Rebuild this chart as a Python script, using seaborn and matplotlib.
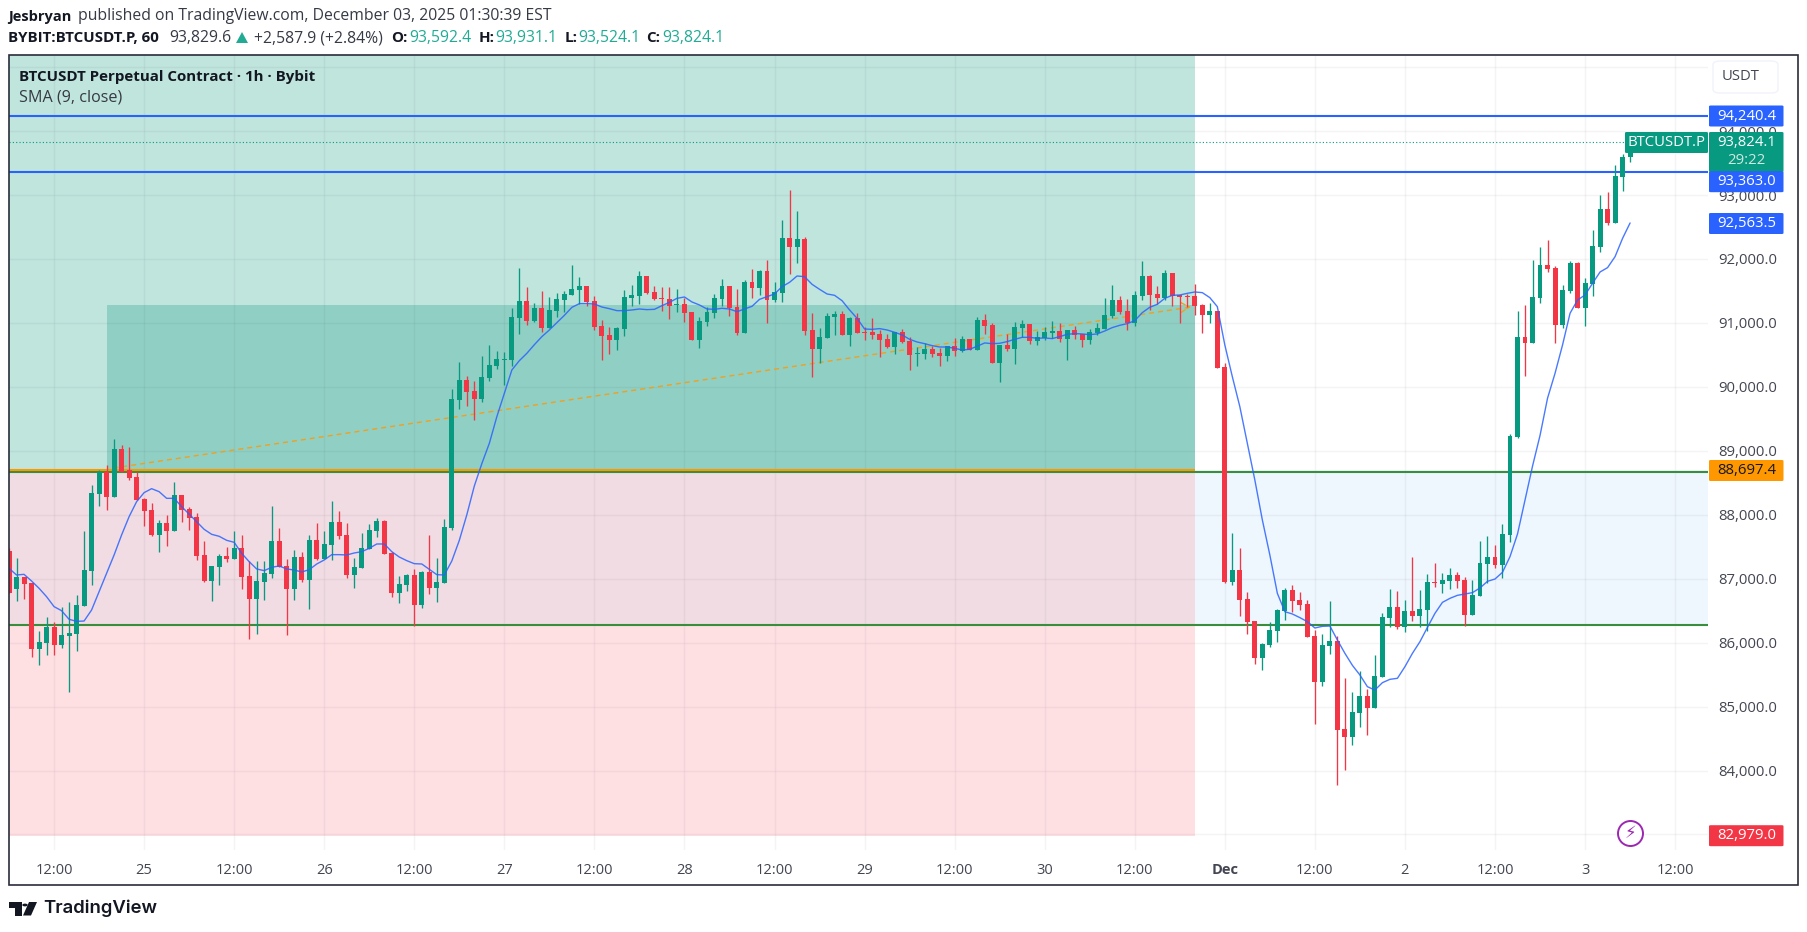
import numpy as np
import pandas as pd
import matplotlib
matplotlib.use("Agg")
import matplotlib.pyplot as plt
from matplotlib.patches import Rectangle, Polygon, FancyBboxPatch
import seaborn as sns

# candle values, hourly from Nov 24 06:00
opens = [87433,86839,87027,86933,85901,85995,86245,85963,86104,86135,
         86573,87120,88325,88674,88278,89028,88700,88591,88247,88074,
         87684,87871,87746,88309,88090,87965,87371,86964,87183,87355,
         87308,87480,87042,86683,86948,87074,87590,87199,86839,87339,
         86980,87605,87308,87527,87887,87684,87058,87167,87465,87746,
         87902,87402,86776,86902,87058,86589,87105,86855,86933,87793,
         89795,90108,89936,89811,90139,90327,90421,90421,91077,91343,
         91031,91234,90921,91187,91359,91437,91515,91578,91343,90952,
         90812,90733,90905,91390,91421,91734,91484,91390,91375,91281,
         91296,91171,90733,91015,91156,91375,91578,91249,90843,91640,
         91547,91812,91359,91468,92329,92188,92313,90890,90593,90765,
         91093,91140,90812,91077,90858,90858,90827,90749,90624,90859,
         90718,90515,90515,90593,90530,90483,90640,90562,90749,90577,
         91046,90968,90374,90656,90593,90921,90984,90718,90765,90843,
         90874,90749,90890,90828,90734,90843,90906,91109,91359,91187,
         91000,91422,91735,91453,91391,91782,91437,91422,91422,91281,
         91125,91187,90311,86948,87136,86683,86338,85760,85963,86182,
         86495,86823,86667,86604,86104,85384,85947,86026,84649,84524,
         84900,85166,84978,85463,86385,86557,86245,86495,86417,86510,
         86948,86917,86964,87058,86980,86432,86729,87230,87339,87214,
         87683,89222,90780,90687,91390,91907,91860,90968,91500,91938,
         91234,91609,92188,92782,92563,93283,93592.4]
highs = [87475,87324,87027,86933,86182,86401,86323,86557,86636,86745,
         87746,88465,88700,88778,89185,89091,89060,88669,88262,88184,
         87918,87996,88512,88309,88121,88028,87590,87199,87386,87496,
         87746,87684,87277,87277,87277,88137,87793,87308,87449,87418,
         87684,87871,87746,88215,88059,87871,87324,87715,87856,87949,
         87918,87418,87042,87074,87152,87120,87684,87324,87934,89967,
         90389,90170,90092,90483,90655,90561,90546,91234,91859,91562,
         91312,91500,91406,91468,91500,91906,91719,91578,91421,91046,
         90937,90937,91515,91594,91812,91734,91578,91562,91562,91531,
         91390,91171,91093,91249,91453,91687,91578,91531,91672,91844,
         91828,91984,91640,92610,93079,92751,92344,91156,90921,91156,
         91187,91187,91093,91156,90937,91077,90890,90827,90859,90906,
         90781,90624,90687,90640,90609,90640,90765,90796,90749,91093,
         91140,90999,90656,90828,91015,91046,90984,90874,90937,91031,
         91000,90890,90953,90828,90906,91000,91391,91594,91422,91375,
         91500,91969,91750,91578,91828,91782,91437,91453,91609,91297,
         91312,91187,90374,87715,87480,86792,86338,85994,86323,86526,
         86855,86901,86792,86667,86198,86135,86651,86104,85447,85228,
         85556,85275,85807,86464,86839,86808,86667,87339,86823,87073,
         87245,87089,87167,87105,87027,86980,87590,87668,87527,87855,
         89263,91187,91281,91985,92188,92298,91891,91594,91969,91953,
         91703,92454,93001,93048,93470,93643,93931.1]
lows = [86771,86651,86683,85776,85650,85807,85807,85916,85228,85869,
        86573,86902,88137,88074,88278,88669,88544,88231,87824,87668,
        87418,87511,87746,87887,87762,87292,86948,86651,86902,87261,
        87308,86839,86057,86135,86667,87011,87183,86120,86667,86948,
        86526,87292,87308,87292,87621,87011,86855,87167,87465,87652,
        87386,86714,86620,86808,86260,86542,86761,86636,86933,87760,
        89654,89701,89482,89764,90092,90280,90030,90327,90827,90968,
        91015,90858,90921,91093,91171,91437,91296,91265,90890,90421,
        90514,90577,90796,91265,91296,91453,91359,91187,91062,91171,
        91015,90733,90608,90952,91077,91265,91109,90812,90843,91390,
        91437,90999,91328,91328,91766,91938,90812,90155,90374,90765,
        90812,90812,90640,90843,90733,90749,90468,90608,90515,90687,
        90264,90327,90437,90468,90327,90405,90483,90546,90577,90577,
        90828,90374,90077,90562,90358,90781,90671,90656,90734,90765,
        90702,90421,90749,90624,90671,90812,90906,91078,91140,90890,
        90953,91359,91203,91297,91359,91265,91000,91250,91125,90843,
        91000,90296,86933,86901,86417,86135,85666,85572,85932,86010,
        86354,86479,86510,86088,84728,85322,85822,83774,84008,84399,
        84681,84556,84978,85463,86245,86213,86166,86338,86245,86182,
        86870,86776,86839,86855,86260,86432,86729,86933,87167,87011,
        87574,89200,90171,90687,91312,91797,90687,90921,91469,91234,
        90953,91422,92110,92532,92563,93064,93524.1]
closes = [86782,87027,86917,85901,86010,86245,85963,86120,86151,86589,
          87136,88340,88669,88278,89028,88669,88575,88231,88059,87684,
          87871,87746,88309,88074,87949,87355,86964,87199,87355,87308,
          87480,87027,86683,86964,87089,87590,87183,86839,87339,86980,
          87605,87308,87543,87887,87668,87058,87183,87480,87762,87902,
          87386,86776,86917,87058,86589,87105,86855,86948,87809,89811,
          90108,89920,89811,90155,90342,90436,90436,91093,91343,91031,
          91234,90921,91203,91375,91453,91531,91578,91328,90937,90796,
          90733,90921,91406,91437,91734,91468,91375,91375,91265,91296,
          91156,90733,91031,91171,91390,91578,91234,90843,91640,91547,
          91812,91359,91484,92329,92188,92313,90874,90593,90780,91109,
          91140,90812,91077,90843,90843,90812,90733,90624,90859,90702,
          90499,90530,90593,90515,90483,90640,90562,90749,90577,91046,
          90953,90374,90656,90593,90937,90984,90718,90781,90859,90874,
          90749,90890,90812,90734,90859,90921,91125,91359,91172,91000,
          91437,91735,91437,91391,91782,91422,91406,91406,91265,91125,
          91187,90296,86948,87136,86667,86323,85760,85979,86198,86510,
          86823,86651,86589,86088,85384,85963,86026,84634,84524,84915,
          85166,84978,85478,86401,86557,86245,86495,86417,86526,86948,
          86933,86980,87058,86964,86432,86745,87245,87339,87214,87699,
          89232,90780,90687,91406,91907,91844,90968,91516,91938,91234,
          91625,92204,92782,92563,93298,93596,93824.1]
sma9 = [87162,87058,87068,86964,86850,86719,86563,86500,86365,86333,
        86338,86510,86797,87084,87371,87684,87970,88205,88346,88408,
        88361,88257,88257,88127,88010,87892,87772,87694,87663,87600,
        87569,87397,87266,87152,87126,87178,87199,87152,87136,87105,
        87141,87230,87293,87376,87376,87371,87402,87423,87475,87543,
        87543,87423,87339,87282,87235,87230,87146,87063,87058,87277,
        87600,88000,88450,88800,89117,89534,89899,90264,90410,90525,
        90660,90786,90890,91004,91119,91244,91302,91302,91296,91249,
        91223,91192,91192,91203,91218,91208,91213,91270,91322,91385,
        91406,91328,91281,91218,91213,91229,91218,91176,91218,91260,
        91369,91411,91453,91567,91635,91734,91724,91604,91526,91453,
        91432,91348,91203,91072,90905,90900,90911,90890,90854,90812,
        90744,90702,90676,90645,90624,90624,90603,90577,90588,90635,
        90687,90676,90682,90708,90744,90775,90775,90760,90765,90755,
        90786,90822,90833,90828,90817,90828,90874,90927,90963,90989,
        91036,91161,91245,91291,91385,91432,91437,91463,91484,91474,
        91396,91255,90656,90160,89691,89118,88544,87919,87371,86771,
        86484,86448,86391,86328,86229,86255,86260,86041,85833,85645,
        85494,85311,85259,85374,85426,85442,85624,85833,86015,86239,
        86458,86630,86693,86740,86761,86782,86855,86959,86995,87100,
        87345,87699,88229,88760,89240,89822,90212,90655,91151,91359,
        91437,91620,91797,91865,92037,92323,92563.5]

price_ticks = [83000,84000,85000,86000,87000,88000,89000,90000,91000,92000,93000,94000,95000]
hidden_ticks = [83000,95000]
time_ticks = [6,18,30,42,54,66,78,90,102,114,126,138,150,162,174,186,198,210,222]
time_labels = ["12:00","25","12:00","26","12:00","27","12:00","28","12:00","29",
               "12:00","30","12:00","Dec","12:00","2","12:00","3","12:00"]

# levels drawn on the chart
tp_upper, tp_lower = 94240.4, 93363.0
last_price = 93824.1
entry = 88697.4
green_top, green_bot = 88670.0, 86276.0
stop = 82979.0
box_top = 91281.0
zone_start, box_start, zone_end = -0.07, 13.0, 158.0
trend_start, trend_end = (13.9, 88731.0), (157.8, 91254.0)

GREEN = "#089981"
RED = "#f23645"
BLUE = "#2962ff"
ORANGE = "#ff9800"
LEVEL_GREEN = "#388e3c"
INK = "#131722"
AXIS_INK = "#434651"

W, H = 1807, 932
FONT = "Open Sans"
AXIS_SIZE = 10.7
HEAD_SIZE = 11.3
BOLD_SIZE = 10.5

sns.set_theme(style="white")
plt.rcParams["font.family"] = [FONT, "DejaVu Sans"]

df = pd.DataFrame({"i": np.arange(len(closes)), "open": opens, "high": highs,
                   "low": lows, "close": closes, "sma": sma9})
df["up"] = df["close"] >= df["open"]


def fx(px):
    return px / W


def fy(py):
    return 1 - py / H


fig = plt.figure(figsize=(W / 100, H / 100), dpi=100, facecolor="white")
ax_left, ax_right, ax_top, ax_bot = 8.5, 1708, 55, 850
ax = fig.add_axes([fx(ax_left), fy(ax_bot), (ax_right - ax_left) / W, (ax_bot - ax_top) / H])
ax.set_facecolor("white")
ax.set_xlim(-0.07, (ax_right - 9) / 7.505)
ax.set_ylim(92000 - (ax_bot - 259) * 15.64, 92000 + (259 - ax_top) * 15.64)
ymax = ax.get_ylim()[1]
xmax = ax.get_xlim()[1]

# shaded zones
ax.add_patch(Rectangle((zone_start, entry), zone_end - zone_start, ymax - entry, fc="#bfe5dd", ec="none", zorder=1))
ax.add_patch(Rectangle((box_start, entry), zone_end - box_start, box_top - entry, fc="#90cfc4", ec="none", zorder=1.1))
ax.add_patch(Rectangle((zone_start, stop), zone_end - zone_start, entry - stop, fc="#fee0e3", ec="none", zorder=1))
ax.add_patch(Rectangle((zone_start, green_bot), zone_end - zone_start, entry - green_bot, fc="#f1dce3", ec="none", zorder=1.1))
ax.add_patch(Rectangle((zone_end, green_bot), xmax - zone_end, entry - green_bot, fc="#eef6fe", ec="none", zorder=1))

# grid
ax.set_xticks(time_ticks)
ax.set_xticklabels(time_labels, fontsize=10.5, color=AXIS_INK)
ax.get_xticklabels()[time_labels.index("Dec")].set_fontweight("bold")
ax.set_yticks(price_ticks)
ax.set_yticklabels(["" if p in hidden_ticks else f"{p:,.1f}" for p in price_ticks],
                   fontsize=AXIS_SIZE, color=AXIS_INK)
ax.yaxis.tick_right()
ax.tick_params(axis="x", length=0, pad=9)
ax.tick_params(axis="y", length=0, pad=7.5)
ax.grid(True, color="#2a2e39", alpha=0.05, lw=1.0, zorder=1.5)
ax.set_axisbelow(False)
for gl in ax.get_xgridlines() + ax.get_ygridlines():
    gl.set_zorder(1.5)
for s in ax.spines.values():
    s.set_visible(False)

# level lines
ax.hlines([tp_upper, tp_lower], zone_start, xmax, color=BLUE, lw=1.5, zorder=3)
ax.hlines(last_price, zone_start, xmax, color=GREEN, lw=0.8, ls=(0, (1, 2)), zorder=3)
ax.hlines(green_top, zone_start, xmax, color=LEVEL_GREEN, lw=1.5, zorder=3)
ax.hlines(green_bot, zone_start, xmax, color=LEVEL_GREEN, lw=1.5, zorder=3)
ax.hlines(entry, zone_start, zone_end, color=ORANGE, lw=1.5, zorder=3.1)

# trend line with arrow tip
ax.plot([trend_start[0], trend_end[0]], [trend_start[1], trend_end[1]], color="#f0a020",
        lw=1.0, ls=(0, (3.6, 2.9)), zorder=3.2)
ax.annotate("", xy=trend_end, xytext=(trend_end[0] - 1, trend_end[1] - 7),
            arrowprops=dict(arrowstyle="->,head_length=0.5,head_width=0.3", color="#f0a020", lw=1.0, ls="--"),
            zorder=3.2)

# candles
colors = np.where(df["up"], GREEN, RED)
ax.vlines(df["i"], df["low"], df["high"], colors=colors, lw=0.95, zorder=4)
body_low = df[["open", "close"]].min(axis=1)
body_h = (df["open"] - df["close"]).abs()
ax.bar(df["i"], body_h, bottom=body_low, width=0.66, color=colors, lw=0, zorder=4.1)

# SMA
sns.lineplot(data=df, x="i", y="sma", color=BLUE, lw=1.0, alpha=0.85, ax=ax, zorder=5, estimator=None, legend=False)
ax.set_xlabel("")
ax.set_ylabel("")

# lightning badge
ax.plot([216], [stop + 40], marker="o", ms=18, mfc="white", mec="#9c27b0", mew=1.4, zorder=6, clip_on=False)
ax.text(216, stop + 40, "\u26a1", color="#9c27b0", fontsize=12, ha="center", va="center", zorder=7,
        family="DejaVu Sans")

# everything below is placed in figure pixels
fig.add_artist(Rectangle((fx(8.5), fy(885)), (1798 - 8.5) / W, (885 - 55) / H, transform=fig.transFigure,
                         fill=False, ec="#2a2e39", lw=1.2, zorder=10))


def label_box(y, h, text, fc, tc="white", x0=1709, x1=1783.5, size=AXIS_SIZE):
    fig.add_artist(FancyBboxPatch((fx(x0), fy(y + h / 2)), (x1 - x0) / W, h / H, transform=fig.transFigure,
                                  boxstyle="round,pad=0,rounding_size=0.001", fc=fc, ec="none", zorder=11))
    fig.text(fx((x0 + x1) / 2), fy(y), text, color=tc, ha="center", va="center", fontsize=size, zorder=12)


label_box(116, 21, "94,240.4", BLUE)
label_box(152, 40, "", GREEN)
fig.text(fx(1746.5), fy(142), "93,824.1", color="white", ha="center", va="center", fontsize=AXIS_SIZE, zorder=12)
fig.text(fx(1746.5), fy(160.5), "29:22", color="#cfe9e3", ha="center", va="center", fontsize=AXIS_SIZE, zorder=12)
label_box(181.7, 21, "93,363.0", BLUE)
label_box(223.5, 21, "92,563.5", BLUE)
label_box(470.5, 21, "88,697.4", ORANGE, tc=INK)
label_box(835.7, 21, "82,979.0", RED)
label_box(142.5, 21, "BTCUSDT.P", GREEN, x0=1625, x1=1708)

# USDT box in the price pane
fig.add_artist(FancyBboxPatch((fx(1713), fy(93)), 65 / W, 32 / H, transform=fig.transFigure,
                              boxstyle="round,pad=0,rounding_size=0.004", fc="white", ec="#f0f3fa", lw=1, zorder=11))
fig.text(fx(1741), fy(77), "USDT", color=AXIS_INK, ha="center", va="center", fontsize=10.6, zorder=12)

# header
fig.text(fx(8), fy(16.5), "Jesbryan", color=INK, fontsize=BOLD_SIZE, fontweight="bold", va="center")
fig.text(fx(77.7), fy(16.5), "published on TradingView.com, December 03, 2025 01:30:39 EST", color="#363a45",
         fontsize=HEAD_SIZE, va="center")
row2 = [(8, "BYBIT:BTCUSDT.P, 60", INK, "bold"), (169.5, "93,829.6", "#363a45", "normal"),
        (253.7, "+2,587.9 (+2.84%)", "#363a45", "normal"), (391, "O:", INK, "bold"),
        (409.5, "93,592.4", "#22ab94", "normal"), (478.4, "H:", INK, "bold"),
        (495.6, "93,931.1", "#22ab94", "normal"), (564.5, "L:", INK, "bold"),
        (578, "93,524.1", "#22ab94", "normal"), (646.5, "C:", INK, "bold"),
        (662, "93,824.1", "#22ab94", "normal")]
for x, s, c, w in row2:
    size = BOLD_SIZE + 0.4 if w == "bold" else HEAD_SIZE
    fig.text(fx(x), fy(38.5), s, color=c, fontsize=size, fontweight=w, va="center")
fig.add_artist(Polygon([(fx(236), fy(43)), (fx(248), fy(43)), (fx(242), fy(32))], closed=True,
                       transform=fig.transFigure, fc="#22ab94", ec="none"))

# legend text on the chart
fig.text(fx(19), fy(76.5), "BTCUSDT Perpetual Contract \u00b7 1h \u00b7 Bybit", color=INK, fontsize=10.9,
         fontweight="bold", va="center", zorder=12)
fig.text(fx(19), fy(97.5), "SMA (9, close)", color="#363a45", fontsize=11.6, va="center", zorder=12)

# TradingView logo
logo = [[(8.5, 902), (22, 902), (22, 915.5), (14.5, 915.5), (14.5, 908), (8.5, 908)],
        [(29, 902), (37, 902), (31, 915.5), (23, 915.5)]]
for pts in logo:
    fig.add_artist(Polygon([(fx(a), fy(b)) for a, b in pts], closed=True, transform=fig.transFigure,
                           fc=INK, ec="none"))
fig.add_artist(plt.Circle((fx(25), fy(905)), 2.7 / W, transform=fig.transFigure, fc=INK, ec="none"))
fig.text(fx(43), fy(908), "TradingView", color=INK, fontsize=13.3, fontweight="semibold", family="Inter",
         va="center")

fig.savefig("out.png", dpi=100)
